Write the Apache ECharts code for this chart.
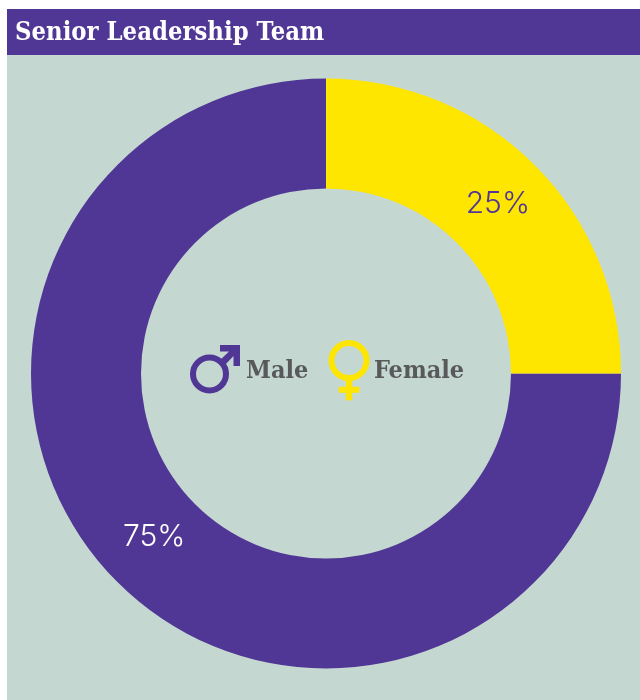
<!DOCTYPE html>
<html>
<head>
<meta charset="utf-8">
<title>Senior Leadership Team</title>
<style>
  html, body { margin: 0; padding: 0; background: #fff; }
  #chart { width: 640px; height: 700px; }
</style>
<script src="https://cdn.jsdelivr.net/npm/echarts@6/dist/echarts.min.js"></script>
</head>
<body>
<div id="chart"></div>
<script>
const titleText = 'Senior Leadership Team';
const categories = ['Male', 'Female'];
const shares = [75, 25];

const purple = '#503795';
const yellow = '#FFE600';
const panel = '#C5D7D1';
const grey = '#58595B';
const slabFont = '"DejaVu Serif Condensed", "DejaVu Serif", serif';

const chart = echarts.init(document.getElementById('chart'), null, { renderer: 'canvas' });

// symbols are drawn by hand, there is no glyph for them in the fonts
const ring = (cx, cy, r, w, color) => ({
  type: 'circle',
  shape: { cx, cy, r },
  style: { fill: 'transparent', stroke: color, lineWidth: w }
});
const poly = (points, color) => ({
  type: 'polygon',
  shape: { points },
  style: { fill: color }
});
const label = (x, text) => ({
  type: 'text',
  x,
  y: 371,
  style: {
    text,
    fill: grey,
    font: 'bold 25px ' + slabFont,
    textVerticalAlign: 'middle'
  }
});

chart.setOption({
  animation: false,
  title: {
    text: titleText,
    left: 10,
    top: 16,
    textStyle: { color: '#fff', fontFamily: slabFont, fontWeight: 'bold', fontSize: 25.4 }
  },
  graphic: [
    { type: 'rect', z: -10, shape: { x: 7, y: 9, width: 633, height: 691 }, style: { fill: panel } },
    { type: 'rect', z: -9, shape: { x: 7, y: 9, width: 633, height: 46 }, style: { fill: purple } },

    // male
    ring(209.5, 374, 16.5, 6, purple),
    poly([[220, 345], [240, 345], [240, 366], [233.5, 366], [233.5, 356], [224, 366], [219, 361], [229, 351.5], [220, 351.5]], purple),
    label(246, categories[0]),

    // female
    ring(349, 360.5, 17.5, 6, yellow),
    poly([[345.8, 380], [352.2, 380], [352.2, 386.7], [359.3, 386.7], [359.3, 392.7], [352.2, 392.7], [352.2, 400.3], [345.8, 400.3], [345.8, 392.7], [338.7, 392.7], [338.7, 386.7], [345.8, 386.7]], yellow),
    label(374, categories[1])
  ],
  series: [{
    type: 'pie',
    center: [326, 373.5],
    radius: [185, 295],
    startAngle: 90,
    clockwise: false,
    silent: true,
    labelLine: { show: false },
    label: {
      position: 'inside',
      formatter: '{c}%',
      fontFamily: 'Inter, sans-serif',
      fontSize: 30,
      fontWeight: 300
    },
    data: [
      { name: categories[0], value: shares[0], itemStyle: { color: purple }, label: { color: '#fff', offset: [0, -8] } },
      { name: categories[1], value: shares[1], itemStyle: { color: yellow }, label: { color: purple, offset: [0, 2] } }
    ]
  }]
});
</script>
</body>
</html>
